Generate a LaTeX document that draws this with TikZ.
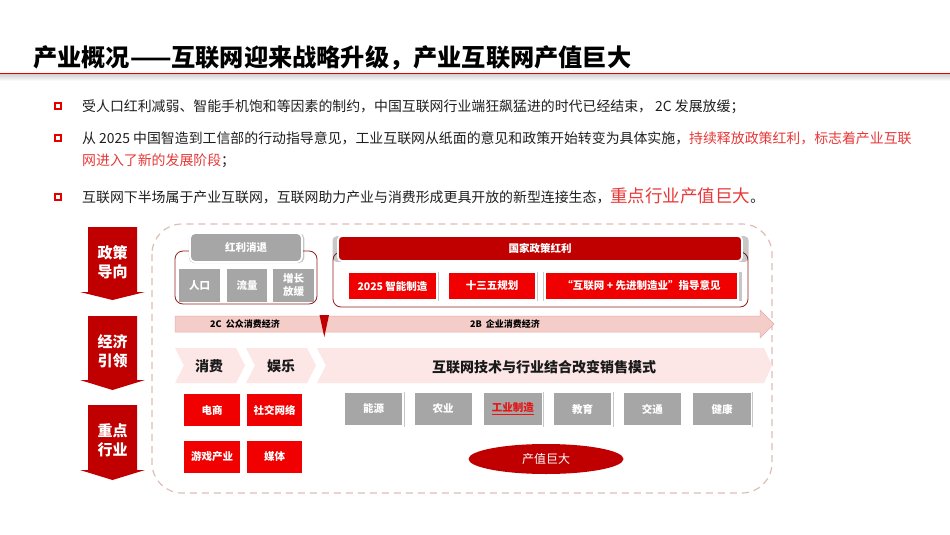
\documentclass[tikz,border=0pt]{standalone}
\usepackage{fontspec}
\setmainfont{Noto Sans CJK SC}
\usetikzlibrary{shapes.geometric,shadows}
\definecolor{dred}{RGB}{192,0,0}
\definecolor{bred}{RGB}{240,0,0}
\definecolor{cgrey}{RGB}{166,166,166}
\definecolor{tred}{RGB}{232,56,56}
\definecolor{dashc}{RGB}{222,190,182}
\definecolor{outl}{RGB}{150,30,30}
\definecolor{chev}{RGB}{252,230,230}
\definecolor{tlc}{RGB}{245,205,200}
\definecolor{tlb}{RGB}{232,172,166}
\definecolor{ured}{RGB}{230,20,20}
\newcommand\fsz[2]{\fontsize{#1}{#2}\selectfont}
\begin{document}
\begin{tikzpicture}[x=1pt,y=-1pt,
  shd/.style={drop shadow={shadow xshift=0.6pt,shadow yshift=-0.6pt,shadow scale=1.03,opacity=0.22,fill=black}},
  gbox/.style={shape=rectangle,fill=cgrey,draw=white,line width=1.8pt,shd,text=white,
    font=\bfseries\fsz{10.5}{13},inner sep=0pt,minimum height=34pt,align=center},
  rbox/.style={gbox,fill=bred},
  flatg/.style={shape=rectangle,fill=cgrey,text=white,font=\bfseries\fsz{10.5}{13},
    inner sep=0pt,minimum height=33pt,align=center},
  hdr/.style={shape=rectangle,rounded corners=4pt,draw=white,line width=1.8pt,shd,text=white,
    font=\bfseries\fsz{10.5}{13},inner sep=0pt},
  grp/.style={draw=outl,line width=0.8pt,rounded corners=8pt},
  arrbody/.style={fill=dred},
  arrtxt/.style={font=\bfseries\fsz{15}{19},text=white,align=center,inner sep=0pt},
  btxt/.style={font=\fsz{13.9}{17},text=black!88,inner sep=0pt,anchor=base west},
  bsq/.style={draw=red!90!black,line width=1.5pt,fill=white,minimum size=6pt,inner sep=0pt},
  tltxt/.style={font=\bfseries\fsz{9}{11},text=black,inner sep=0pt},
  chevtxt/.style={font=\bfseries\fsz{14}{16},text=black!90,inner sep=0pt},
]
\useasboundingbox (0,0) rectangle (950,535);
\fill[white] (0,0) rectangle (950,535);

% title
\node[anchor=west,font=\bfseries\fsz{24.2}{28},inner sep=0pt] (title) at (33,58) {产业概况——互联网迎来战略升级，产业互联网产值巨大};
\shade[top color=black!18,bottom color=white] (0,74) rectangle (950,81);
\draw[red!90!black,line width=1.2pt] (0,73.5) -- (950,73.5);

% bullets
\node[bsq] (s1) at (58,106) {};
\node[bsq] (s2) at (58,138) {};
\node[bsq] (s3) at (58,197) {};
\node[btxt] (b1) at (82,111.2) {受人口红利减弱、智能手机饱和等因素的制约，中国互联网行业端狂飙猛进的时代已经结束， 2C 发展放缓；};
\node[btxt] (b2) at (82,143.2) {从 2025 中国智造到工信部的行动指导意见，工业互联网从纸面的意见和政策开始转变为具体实施，\textcolor{tred}{持续释放政策红利，标志着产业互联}};
\node[btxt] (b2b) at (82,165.2) {\textcolor{tred}{网进入了新的发展阶段}；};
\node[btxt] (b3) at (82,202.3) {互联网下半场属于产业互联网，互联网助力产业与消费形成更具开放的新型连接生态，{\color{tred}\fsz{17.5}{20}重点行业产值巨大}。};

% left arrows
\fill[arrbody] (88,227) -- (137,227) -- (137,292) -- (145,292) -- (112.5,300) -- (80,292) -- (88,292) -- cycle;
\fill[arrbody] (88,316) -- (137,316) -- (137,380) -- (145,380) -- (112.5,390) -- (80,380) -- (88,380) -- cycle;
\fill[arrbody] (88,405) -- (137,405) -- (137,470) -- (145,470) -- (112.5,480) -- (80,470) -- (88,470) -- cycle;
\node[arrtxt] (a1) at (112.5,262) {政策\\导向};
\node[arrtxt] (a2) at (112.5,351) {经济\\引领};
\node[arrtxt] (a3) at (112.5,440) {重点\\行业};

% dashed frame
\draw[dashc,line width=1.2pt,dash pattern=on 7pt off 5pt,rounded corners=30pt] (152,224) rectangle (772,493);

% top-left group
\draw[grp] (175,251) rectangle (317,304);
\node[flatg,minimum width=41pt] (p1) at (199.5,285.5) {人口};
\node[flatg,minimum width=40pt] (p2) at (247,285.5) {流量};
\node[flatg,minimum width=41pt] (p3) at (293.5,285.5) {增长\\放缓};
\node[hdr,fill=cgrey,minimum width=112pt,minimum height=29pt,rounded corners=5pt] (h1) at (246,247.5) {红利消退};

% top-right group
\draw[grp] (333,252) rectangle (748,307);
\node[hdr,fill=dred,minimum width=404pt,minimum height=25pt] (h2) at (540,248.5) {国家政策红利};
\node[rbox,minimum width=89pt,minimum height=28pt] (q1) at (392.5,286) {2025 智能制造};
\node[rbox,minimum width=88pt,minimum height=28pt] (q2) at (492,286) {十三五规划};
\node[rbox,minimum width=193pt,minimum height=28pt] (q3) at (641.5,286) {“互联网 + 先进制造业”指导意见};

% timeline
\path[fill=tlc,draw=tlb,line width=0.5pt] (175,316) -- (760,316) -- (760,310) -- (774,324) -- (760,338) -- (760,332) -- (175,332) -- cycle;
\fill[dred] (319.5,315) -- (329,315) -- (324.3,337) -- cycle;
\node[tltxt] (l2c) at (245,324) {2C\ \ 公众消费经济};
\node[tltxt] (l2b) at (505,324) {2B\ \ 企业消费经济};

% chevrons
\fill[chev] (175,348) -- (236,348) -- (245,365.5) -- (236,383) -- (175,383) -- (184,365.5) -- cycle;
\fill[chev] (246,348) -- (307,348) -- (316,365.5) -- (307,383) -- (246,383) -- (255,365.5) -- cycle;
\fill[chev] (317,348) -- (764,348) -- (772,365.5) -- (764,383) -- (317,383) -- (326,365.5) -- cycle;
\node[chevtxt] (c1) at (209,366) {消费};
\node[chevtxt] (c2) at (281,366) {娱乐};
\node[chevtxt] (c3) at (544,367) {互联网技术与行业结合改变销售模式};

% consumer boxes
\node[rbox,minimum width=58pt] (r1) at (212,410) {电商};
\node[rbox,minimum width=57pt] (r2) at (274.5,410) {社交网络};
\node[rbox,minimum width=58pt] (r3) at (212,457) {游戏产业};
\node[rbox,minimum width=57pt] (r4) at (274.5,457) {媒体};

% industry boxes
\node[gbox,minimum width=59pt] (i1) at (373.5,409) {能源};
\node[gbox,minimum width=59pt] (i2) at (443.2,409) {农业};
\node[gbox,minimum width=59pt,text=ured] (i3) at (512.9,409) {\underline{工业制造}};
\node[gbox,minimum width=59pt] (i4) at (582.6,409) {教育};
\node[gbox,minimum width=59pt] (i5) at (652.3,409) {交通};
\node[gbox,minimum width=59pt] (i6) at (722,409) {健康};

% value ellipse
\node[ellipse,fill=dred,minimum width=155pt,minimum height=30pt,text=white,font=\fsz{12}{14},inner sep=0pt] (cz) at (546,459) {产值巨大};
\end{tikzpicture}
\end{document}
